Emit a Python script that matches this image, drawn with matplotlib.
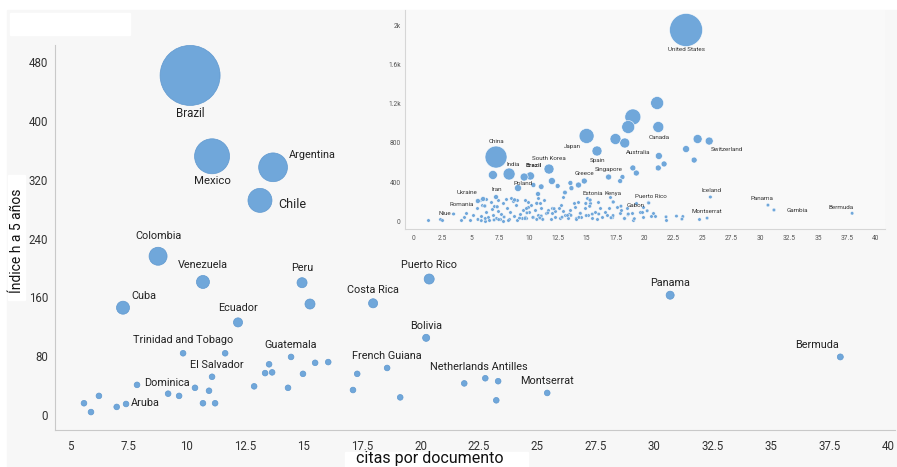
import matplotlib
matplotlib.use('Agg')
import matplotlib.pyplot as plt
import numpy as np
from matplotlib.patches import Rectangle

# --- datos: América Latina (gráfico principal) ---
paises = ['Brazil', 'Mexico', 'Argentina', 'Chile', 'Colombia', 'Venezuela', 'Cuba', 'Peru', '',
          'Ecuador', 'Costa Rica', 'Puerto Rico', 'Panama', 'Bolivia', 'Bermuda',
          'Netherlands Antilles', '', '', '', 'Montserrat', 'French Guiana', '', '', '',
          'Guatemala', '', '', '', '', '', '', '', '',
          'Trinidad and Tobago', '', 'El Salvador', '', '', '', '', '', '',
          'Dominica', 'Aruba', '', '', '', '']
citas = [10.14, 11.08, 13.69, 13.13, 8.77, 10.69, 7.27, 14.93, 15.27,
         12.19, 17.97, 20.37, 30.68, 20.24, 37.96,
         22.77, 21.87, 23.32, 23.24, 25.42, 18.57, 19.13, 17.29, 17.11,
         14.46, 15.49, 16.05, 14.97, 14.33, 13.52, 13.65, 13.35, 12.88,
         9.84, 11.64, 11.08, 10.35, 10.95, 10.69, 11.21, 9.67, 9.2,
         7.87, 7.4, 7.0, 6.24, 5.6, 5.9]
h5 = [462, 352, 337, 292, 216, 181, 146, 180, 151,
      126, 152, 185, 163, 105, 79,
      50, 43, 46, 20, 30, 64, 24, 56, 34,
      79, 71, 72, 56, 37, 69, 58, 57, 39,
      84, 84, 52, 37, 33, 16, 16, 26, 29,
      41, 15, 11, 26, 16, 4]
docs = [100, 34, 23, 16, 9, 4.7, 4.7, 2.8, 2.8,
        2.3, 2.3, 2.8, 1.8, 1.4, 1.0,
        0.9, 0.9, 0.9, 0.9, 0.9, 0.9, 0.9, 0.9, 0.9,
        0.9, 0.9, 0.9, 0.9, 0.9, 0.9, 0.9, 0.9, 0.9,
        0.9, 0.9, 0.9, 0.9, 0.9, 0.9, 0.9, 0.9, 0.9,
        0.9, 0.9, 0.9, 0.9, 0.9, 0.9]

# --- datos: resto del mundo (gráfico pequeño) ---
mundo = ['United States', 'China', 'India', '', 'Poland', '', 'South Korea', 'Japan', 'Spain', '',
         'Australia', '', '', '', 'Canada', '', '', '', '', '', 'Switzerland', '', '', '',
         'Singapore', '', '', 'Greece', '', '', '', '', '', '', 'Iran', 'Ukraine', '',
         'Romania', 'Niue', 'Estonia', 'Kenya', 'Gabon', 'Iceland', 'Gambia']
mundo_citas = [23.6, 7.17, 8.3, 6.9, 9.07, 9.6, 11.75, 15.0, 15.9, 17.5,
               18.3, 19.0, 18.6, 21.1, 21.2, 21.25, 21.7, 21.2, 23.6, 24.6, 25.6, 24.3, 19.0, 19.3,
               16.9, 17.9, 18.1, 14.8, 14.3, 13.6, 12.5, 12.0, 10.8, 10.4, 7.17, 6.05, 5.6,
               6.2, 3.5, 15.3, 17.3, 18.6, 25.7, 31.2]
mundo_h5 = [1959, 656, 482, 472, 338, 451, 533, 872, 718, 841,
            800, 1067, 964, 1210, 964, 667, 585, 544, 738, 841, 820, 625, 544, 492,
            451, 410, 451, 410, 369, 390, 359, 410, 277, 369, 246, 226, 205,
            154, 72, 215, 195, 72, 246, 113]
mundo_docs = [1996, 875, 245, 129, 69, 97, 164, 395, 164, 203,
              164, 453, 291, 291, 203, 69, 45, 45, 69, 129, 97, 45, 45, 45,
              45, 25, 25, 45, 45, 25, 25, 69, 25, 25, 25, 25, 25,
              8, 5, 8, 8, 5, 5, 5]

# puntos pequeños sin etiqueta
resto_citas = [1.3, 2.3, 2.5, 4.1, 4.4, 4.9, 5.2, 4.6, 5.9, 6.3, 6.5, 6.6, 6.8, 6.9, 7.0, 7.2, 7.3,
               7.5, 7.6, 7.8, 8.1, 8.3, 8.4, 8.6, 8.7, 8.9, 9.0, 9.2, 9.4, 9.5, 9.7, 9.9, 9.9,
               5.5, 6.0, 6.7, 7.3, 8.0, 8.5, 9.0, 5.8, 6.3, 8.2, 7.8, 6.2,
               9.7, 9.8, 10.2, 10.5, 10.8, 11.1, 11.3, 11.5, 11.7, 12.0, 12.3, 12.6, 12.8, 13.1,
               13.6, 13.9, 14.1, 14.3, 14.4, 14.9, 15.1, 15.3, 15.7, 15.9, 16.2, 16.3, 16.6,
               16.9, 17.6, 17.9, 18.2, 18.5, 18.9, 19.3, 19.6, 19.9, 20.3, 9.8, 11.1, 12.7,
               14.1, 18.2, 19.9, 10.8, 13.0, 15.0, 17.0, 12.0, 13.0, 14.5, 16.8, 18.0, 10.4,
               11.9, 13.4, 15.5, 17.2, 19.0, 12.3, 14.0, 16.0, 11.0, 10.0,
               19.8, 20.7, 20.6, 20.9, 21.9, 24.7]
resto_h5 = [10, 20, 15, 10, 45, 15, 62, 80, 50, 90, 40, 10, 120, 60, 150, 30, 100,
            25, 70, 180, 130, 20, 90, 210, 55, 160, 10, 75, 30, 110, 45, 200, 140,
            130, 160, 200, 220, 230, 235, 220, 215, 230, 15, 5, 5,
            215, 130, 164, 113, 62, 130, 215, 79, 113, 130, 44, 130, 164, 62,
            113, 181, 27, 198, 79, 130, 62, 181, 96, 17, 130, 44, 96,
            130, 147, 79, 27, 130, 79, 181, 96, 147, 198, 27, 27, 27,
            17, 27, 44, 232, 249, 240, 249, 80, 100, 45, 60, 110, 45,
            20, 35, 30, 40, 15, 100, 140, 200, 180, 90,
            93, 79, 48, 48, 10, 20]

# etiquetas: desplazamiento en px (dx, dy) y alineación
etq_main = {
    'Brazil': (0, -38, 'center'), 'Mexico': (0, -25, 'center'), 'Argentina': (16, 12, 'left'),
    'Chile': (18, -4, 'left'), 'Colombia': (0, 20, 'center'), 'Venezuela': (0, 17, 'center'),
    'Cuba': (8, 12, 'left'), 'Peru': (0, 15, 'center'), 'Ecuador': (0, 14, 'center'),
    'Costa Rica': (0, 13, 'center'), 'Puerto Rico': (0, 14, 'center'), 'Panama': (0, 12, 'center'),
    'Bolivia': (0, 12, 'center'), 'Bermuda': (-23, 12, 'center'),
    'Netherlands Antilles': (-6, 11, 'center'), 'Montserrat': (0, 12, 'center'),
    'French Guiana': (0, 12, 'center'), 'Guatemala': (0, 12, 'center'),
    'Trinidad and Tobago': (0, 13, 'center'), 'El Salvador': (5, 12, 'center'),
    'Dominica': (7, 2, 'left'), 'Aruba': (5, 1, 'left'),
}
tam_main = {'Brazil': 8.3, 'Mexico': 8.2, 'Chile': 9.0}
etq_inset = {
    'United States': (0, -20), 'China': (0, 16), 'India': (4, 10), 'Brazil': (3, 10),
    'Poland': (5, 5), 'South Korea': (0, 11), 'Japan': (-14, -11), 'Spain': (0, -10),
    'Australia': (13, -10), 'Canada': (1, -10), 'Switzerland': (18, -8), 'Singapore': (0, 8),
    'Greece': (0, 8), 'Iran': (1, 8), 'Ukraine': (-16, 6), 'Romania': (-23, 1), 'Niue': (-9, 0),
    'Estonia': (3, 7), 'Kenya': (0, 8), 'Gabon': (7, 8), 'Puerto Rico': (2, 6), 'Iceland': (1, 7),
    'Montserrat': (0, 7), 'Panama': (-6, 7), 'Gambia': (23, -1), 'Bermuda': (-11, 6),
}

fuente = 'Roboto'
W, H = 897, 467
azul = '#70a7da'
gris = '#f7f7f7'

fig = plt.figure(figsize=(W / 100, H / 100), dpi=100)
fig.patch.set_facecolor('white')


def caja(x0, y0, x1, y1, color, z):
    # rectángulo en píxeles de la figura (origen arriba a la izquierda)
    fig.patches.append(Rectangle((x0 / W, 1 - y1 / H), (x1 - x0) / W, (y1 - y0) / H,
                                 transform=fig.transFigure, color=color, zorder=z))


caja(7, 10, W, H, gris, -2)
# cajas blancas (título recortado y etiquetas de ejes)
caja(10, 13, 130, 35, 'white', -1)
caja(8, 175, 25, 300, 'white', -1)
caja(345, 452, 528, H, 'white', -1)

# --- gráfico principal ---
ax = fig.add_axes([55 / W, 1 - 430 / H, 840 / W, 385 / H])
ax.set_zorder(1)
ax.set_facecolor('none')
s_main = np.array(docs) * 18.66
ax.scatter(citas, h5, s=s_main, color=azul, edgecolor='#5f98cf', linewidth=0.5, zorder=3)
for nombre, x, y in zip(paises, citas, h5):
    if nombre in etq_main:
        dx, dy, ha = etq_main[nombre]
        ax.annotate(nombre, (x, y), xytext=(dx * 0.72, dy * 0.72), textcoords='offset points',
                    ha=ha, va='center', fontsize=tam_main.get(nombre, 7.8), family=fuente,
                    color='#222222', zorder=4)

ax.set_xlim(4.36, 40.3)
ax.set_ylim(-20.4, 503.4)
xt = np.arange(5, 40.1, 2.5)
ax.set_xticks(xt)
ax.set_xticklabels([f'{v:g}' for v in xt])
ax.set_yticks(range(0, 481, 80))
ax.tick_params(length=0, labelsize=8.3, colors='#333333')
ax.tick_params(axis='x', pad=7)
ax.tick_params(axis='y', pad=5)
for lab in ax.get_xticklabels() + ax.get_yticklabels():
    lab.set_family(fuente)
for lado in ['top', 'right']:
    ax.spines[lado].set_visible(False)
for lado in ['left', 'bottom']:
    ax.spines[lado].set_color('#c9c9c9')

fig.text(17 / W, 1 - 241 / H, 'Índice h a 5 años', rotation=90, ha='center', va='center',
         fontsize=10, family=fuente, color='#111111', zorder=5)
fig.text(430 / W, 1 - 463 / H, 'citas por documento', ha='center', va='baseline',
         fontsize=11.5, family=fuente, color='#111111', zorder=5)

# --- gráfico pequeño (mundo) ---
ins = fig.add_axes([405 / W, 1 - 229 / H, 480 / W, 219 / H])
ins.set_zorder(2)
ins.set_facecolor('#f9f9f9')
ins.scatter(resto_citas, resto_h5, s=6, color=azul, edgecolor='white', linewidth=0.2, zorder=3)
ins.scatter(citas, h5, s=6 + np.array(docs) * 0.28, color=azul, edgecolor='white',
            linewidth=0.3, zorder=3)
orden = np.argsort(mundo_docs)[::-1]
ins.scatter(np.array(mundo_citas)[orden], np.array(mundo_h5)[orden],
            s=6 + np.array(mundo_docs)[orden] * 0.28, color=azul, edgecolor='white',
            linewidth=0.4, zorder=3)
for nombre, x, y in list(zip(mundo, mundo_citas, mundo_h5)) + list(zip(paises, citas, h5)):
    if nombre in etq_inset:
        dx, dy = etq_inset[nombre]
        ins.annotate(nombre, (x, y), xytext=(dx * 0.72, dy * 0.72), textcoords='offset points',
                     ha='center', va='center', fontsize=4.5, family=fuente, color='#333333',
                     fontweight='bold' if nombre == 'Brazil' else 'normal', zorder=4)

ins.set_xlim(-0.7, 40.8)
ins.set_ylim(-82, 2164)
xt2 = np.arange(0, 40.1, 2.5)
ins.set_xticks(xt2)
ins.set_xticklabels([f'{v:g}' for v in xt2])
ins.set_yticks([0, 400, 800, 1200, 1600, 2000])
ins.set_yticklabels(['0', '400', '800', '1.2k', '1.6k', '2k'])
ins.tick_params(length=0, labelsize=4.8, colors='#555555')
ins.tick_params(axis='x', pad=4)
ins.tick_params(axis='y', pad=3)
for lab in ins.get_xticklabels() + ins.get_yticklabels():
    lab.set_family(fuente)
for lado in ['top', 'right']:
    ins.spines[lado].set_visible(False)
for lado in ['left', 'bottom']:
    ins.spines[lado].set_color('#d6d6d6')

fig.savefig('out.png', dpi=100)
